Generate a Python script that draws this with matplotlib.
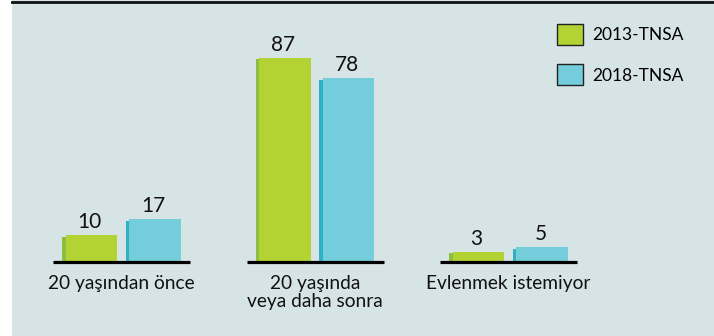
import matplotlib
matplotlib.use("Agg")
import matplotlib.pyplot as plt
from matplotlib.patches import Rectangle, Patch
from matplotlib.lines import Line2D
import numpy as np

plt.rcParams["font.family"] = ["Lato", "DejaVu Sans"]

# ---- data ----
categories = ["20 yaşından önce", "20 yaşında\nveya daha sonra", "Evlenmek istemiyor"]
series_names = ["2013-TNSA", "2018-TNSA"]
values_2013 = [10, 87, 3]
values_2018 = [17, 78, 5]

face_colors = ["#b3d335", "#74cdda"]
side_colors = ["#8cbf3f", "#2fb0c3"]
bg_color = "#d7e4e6"

W, H = 714, 336
fig = plt.figure(figsize=(W / 100, H / 100), dpi=100, facecolor="white")

# panel background and top rule
fig.patches.append(Rectangle((12 / W, 0), 1 - 12 / W, 1, transform=fig.transFigure,
                             facecolor=bg_color, edgecolor="none", zorder=-10))
fig.lines.append(Line2D([12 / W, 1], [1 - 1.5 / H, 1 - 1.5 / H], transform=fig.transFigure,
                        color="#111111", lw=2.0, zorder=5))

# plotting axes in pixel layout
base_px = 74.5
ax = fig.add_axes([12 / W, base_px / H, 1 - 12 / W, (H - 3 - base_px) / H])
ax.set_facecolor("none")
for s in ax.spines.values():
    s.set_visible(False)

y0 = -1.3
ax.set_ylim(y0, y0 + (H - 3 - base_px) / 2.31)
ax.set_xlim(-0.566, 3.062)

x = np.arange(len(categories))
bw = 0.284
off = 0.165
side = 3.5 / 193.5

for vals, sign, fc, sc in [(values_2013, -1, face_colors[0], side_colors[0]),
                           (values_2018, 1, face_colors[1], side_colors[1])]:
    vals = np.array(vals, dtype=float)
    left = x + sign * off - bw / 2
    # darker bevel strip on the left, then the front face
    ax.bar(left, vals - y0 - 0.8, width=bw, bottom=y0, align="edge", color=sc, zorder=2)
    ax.bar(left + side, vals - y0, width=bw - side, bottom=y0, align="edge", color=fc, zorder=3)
    for xi, v in zip(x + sign * off, vals):
        ax.annotate(f"{int(v)}", (xi, v), xytext=(0, 5), textcoords="offset points",
                    ha="center", va="baseline", fontsize=15, color="#111111")

# separate baseline under each group
for xi in x:
    ax.plot([xi - 0.354, xi + 0.354], [y0, y0], color="black", lw=2.3,
            solid_capstyle="butt", zorder=4, clip_on=False)

ax.set_yticks([])
ax.set_xticks(x)
ax.set_xticklabels(categories, fontsize=13.8, color="#111111", linespacing=1.1)
ax.tick_params(axis="x", length=0, pad=9.5)

handles = [Patch(facecolor=c, edgecolor="#222222", linewidth=1.0) for c in face_colors]
fig.legend(handles, series_names, loc="upper left",
           bbox_to_anchor=(557 / W, 1 - 24 / H), frameon=False, borderpad=0,
           borderaxespad=0, handlelength=1.5, handleheight=1.5,
           handletextpad=0.55, labelspacing=1.1, fontsize=12.5)

fig.savefig("out.png", dpi=100, facecolor=fig.get_facecolor())
